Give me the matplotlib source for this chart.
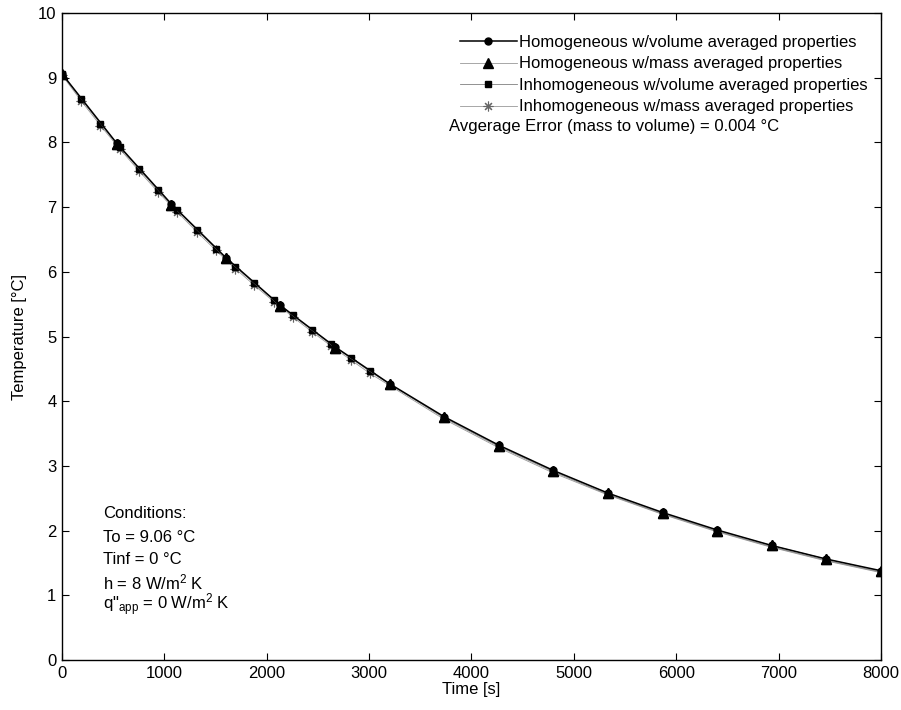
import numpy as np
import matplotlib
matplotlib.use("Agg")
import matplotlib.pyplot as plt

plt.rcParams["font.family"] = ["Liberation Sans", "DejaVu Sans"]
plt.rcParams["mathtext.fontset"] = "custom"
plt.rcParams["mathtext.rm"] = "Liberation Sans"
plt.rcParams["mathtext.it"] = "Liberation Sans:italic"
plt.rcParams["font.size"] = 12

# lumped (homogeneous) solutions, coarse time grid
t_hom = [0, 533, 1067, 1600, 2133, 2667, 3200, 3733, 4267, 4800,
         5333, 5867, 6400, 6933, 7467, 8000]
T_hom_vol = [9.06, 7.99, 7.05, 6.22, 5.48, 4.84, 4.27, 3.76, 3.32, 2.93,
             2.58, 2.28, 2.01, 1.77, 1.56, 1.38]
T_hom_mass = [9.06, 7.98, 7.04, 6.21, 5.47, 4.83, 4.26, 3.75, 3.31, 2.92,
              2.58, 2.27, 2.00, 1.77, 1.56, 1.37]

# inhomogeneous solutions, fine steps early on
t_inh = [0, 188, 376, 564, 752, 940, 1128, 1316, 1504, 1692, 1880, 2068,
         2256, 2444, 2632, 2820, 3008, 3733, 4267, 4800, 5333, 5867, 6400,
         6933, 7467, 8000]
T_inh_vol = [9.06, 8.67, 8.29, 7.93, 7.59, 7.26, 6.95, 6.65, 6.36, 6.08,
             5.82, 5.57, 5.33, 5.10, 4.88, 4.67, 4.46, 3.74, 3.30, 2.91,
             2.56, 2.26, 1.99, 1.75, 1.54, 1.36]
T_inh_mass = [9.04, 8.64, 8.26, 7.90, 7.56, 7.23, 6.92, 6.62, 6.33, 6.05,
              5.79, 5.54, 5.30, 5.07, 4.85, 4.64, 4.43, 3.72, 3.28, 2.89,
              2.55, 2.25, 1.98, 1.74, 1.53, 1.35]
n_marked = 17

labels = ["Homogeneous w/volume averaged properties",
          "Homogeneous w/mass averaged properties",
          "Inhomogeneous w/volume averaged properties",
          "Inhomogeneous w/mass averaged properties"]

fig = plt.figure(figsize=(9.01, 7.10), dpi=100)
ax = fig.add_axes([0.0688, 0.0704, 0.909, 0.9113])

ax.plot(t_inh, T_inh_mass, color="0.6", lw=0.6, marker=(8, 2, 0), ms=7,
        mec="0.4", mew=0.8, markevery=list(range(n_marked)), zorder=2,
        label=labels[3])
ax.plot(t_inh, T_inh_vol, color="0.5", lw=0.6, marker="s", ms=5,
        mfc="k", mec="k", markevery=list(range(n_marked)), zorder=3,
        label=labels[2])
ax.plot(t_hom, T_hom_mass, color="0.6", lw=0.6, marker="^", ms=6.5,
        mfc="k", mec="k", zorder=3, label=labels[1])
ax.plot(t_hom, T_hom_vol, color="k", lw=1.1, marker="o", ms=5,
        mfc="k", mec="k", zorder=4, label=labels[0])
# triangles sit on top of the circles
ax.plot(t_hom, T_hom_mass, ls="none", marker="^", ms=6.5, mfc="k", mec="k",
        zorder=5)

ax.set_xlim(0, 8000)
ax.set_ylim(0, 10)
ax.set_xticks(np.arange(0, 8001, 1000))
ax.set_yticks(np.arange(0, 11, 1))
ax.tick_params(direction="in", top=True, right=True, length=5, width=0.8,
               labelsize=12, pad=4)
for s in ax.spines.values():
    s.set_linewidth(1.0)

ax.set_xlabel("Time [s]", fontsize=12, labelpad=1)
ax.set_ylabel("Temperature [°C]", fontsize=12, labelpad=8)

handles, labs = ax.get_legend_handles_labels()
order = [3, 2, 1, 0]
ax.legend([handles[i] for i in order], [labs[i] for i in order],
          loc="upper right", bbox_to_anchor=(0.984, 0.966), frameon=False,
          fontsize=12, handlelength=3.4, handletextpad=0.15,
          labelspacing=0.39, borderpad=0, borderaxespad=0)

ax.text(3780, 8.24, "Avgerage Error (mass to volume) = 0.004 °C",
        fontsize=12, va="center", ha="left")

cond = ["Conditions:", "To = 9.06 °C", "Tinf = 0 °C",
        "h = 8 W/m$^2$ K", 'q"$_{\\mathrm{app}}$ = 0 W/m$^2$ K']
cond_y = [2.26, 1.90, 1.55, 1.20, 0.86]
for s, y in zip(cond, cond_y):
    ax.text(400, y, s, fontsize=12, va="center", ha="left")

fig.savefig("out.png", dpi=100)
